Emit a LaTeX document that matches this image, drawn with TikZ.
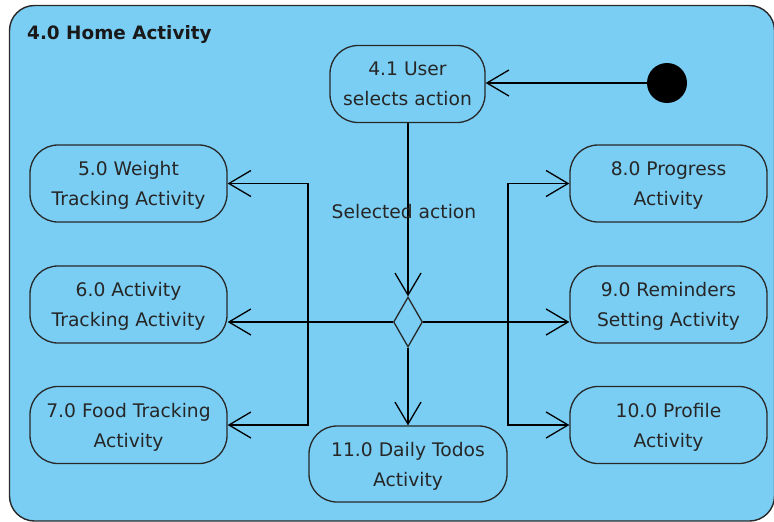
\documentclass[tikz,border=0pt]{standalone}
\usepackage{fontspec}
\setmainfont{DejaVu Sans}
\usetikzlibrary{arrows.meta,shapes.geometric}
\definecolor{panelblue}{RGB}{122,206,244}
\definecolor{edgegray}{RGB}{40,40,40}
\tikzset{
  frame/.style={draw=edgegray,line width=1.4pt,fill=panelblue,rounded corners=25pt},
  actbox/.style={draw=edgegray,line width=1.3pt,rounded corners=28pt,inner sep=0pt,
    minimum width=197pt,minimum height=77pt,align=center,text=black!85,text depth=0pt,
    font=\fontsize{18.7}{30}\selectfont},
  decide/.style={diamond,draw=edgegray,line width=1.3pt,inner sep=0pt,
    minimum width=29pt,minimum height=50pt},
  startdot/.style={circle,fill=black,inner sep=0pt,minimum size=40pt},
  flow/.style={draw=black,line width=1.3pt,
    -{Straight Barb[length=22pt,width=26pt,line width=1.3pt]}},
  caption/.style={font=\fontsize{18.7}{22}\selectfont,text=black!85}
}
\begin{document}
\begin{tikzpicture}[x=1pt,y=-1pt]
\useasboundingbox (0,0) rectangle (774,522);
% activity frame
\draw[frame] (9.5,5.5) rectangle (774.5,521);
\node[anchor=base west,inner sep=0pt,font=\bfseries\fontsize{18.4}{22}\selectfont,text=black!90]
  (title) at (27,39) {4.0 Home Activity};

% actions
\node[actbox,minimum width=155pt] (u41) at (407.5,84) {4.1 User\\selects action};
\node[startdot] (init) at (667,83) {};
\node[actbox] (w5)  at (128.5,183.5) {5.0 Weight\\Tracking Activity};
\node[actbox] (a6)  at (128.5,304.5) {6.0 Activity\\Tracking Activity};
\node[actbox] (f7)  at (128.5,425)   {7.0 Food Tracking\\Activity};
\node[actbox] (p8)  at (668.5,183.5) {8.0 Progress\\Activity};
\node[actbox] (r9)  at (668.5,304.5) {9.0 Reminders\\Setting Activity};
\node[actbox] (pf10) at (668.5,425)  {10.0 Profile\\Activity};
\node[actbox,minimum width=198pt,minimum height=76pt] (d11) at (408,464) {11.0 Daily Todos\\Activity};
\node[decide] (dec) at (408,322) {};

% branching buses
\coordinate (lbus) at (308,322);
\coordinate (rbus) at (508,322);

% flows
\draw[flow] (init) -- (u41.east |- init);
\draw[flow] (u41.south -| dec) -- node[caption,pos=0.51,xshift=-4pt]{Selected action} (dec.north);
\draw[flow] (dec.south) -- (d11.north);
\draw[flow] (dec.west) -- (dec.west -| a6.east);
\draw[flow] (dec.west) -- (lbus) |- (w5.east);
\draw[flow] (dec.west) -- (lbus) |- (f7.east);
\draw[flow] (dec.east) -- (dec.east -| r9.west);
\draw[flow] (dec.east) -- (rbus) |- (p8.west);
\draw[flow] (dec.east) -- (rbus) |- (pf10.west);
\end{tikzpicture}
\end{document}
